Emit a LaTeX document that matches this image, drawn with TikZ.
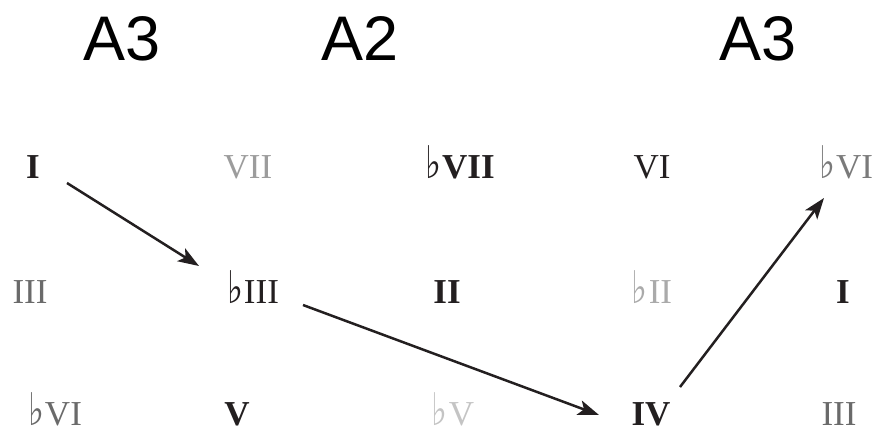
\documentclass[tikz,border=0pt]{standalone}
\usepackage{graphicx}
\usepackage{fontspec}
\setmainfont{Liberation Serif}
\newfontfamily\flatfont{DejaVu Sans}
\newfontfamily\labfont{Liberation Sans}
\usetikzlibrary{arrows.meta}
\definecolor{ink}{HTML}{231F20}
\definecolor{gA}{HTML}{6A6A6A}
\definecolor{gB}{HTML}{7A7A7A}
\definecolor{gC}{HTML}{9C9C9C}
\definecolor{gD}{HTML}{AAAAAA}
\definecolor{gE}{HTML}{C4C4C4}
\newcommand{\fl}{\scalebox{0.75}[1]{\flatfont\fontsize{45}{50}\selectfont ♭}\kern1pt}
\tikzset{
  rn/.style={anchor=base, font=\fontsize{35}{40}\selectfont, text=ink, inner sep=0pt},
  bd/.style={rn, font=\fontsize{35}{40}\selectfont\bfseries},
  lab/.style={anchor=base, font=\labfont\fontsize{63}{70}\selectfont, inner sep=0pt},
  arr/.style={draw=ink, line width=2.5pt, -{Stealth[length=21pt,width=15pt,inset=5pt]}}
}
\begin{document}
\begin{tikzpicture}[x=1pt,y=-1pt]
\useasboundingbox (0,0) rectangle (877,436);
% top labels
\node[lab] (t1) at (122,60) {A3};
\node[lab] (t2) at (360,60) {A2};
\node[lab] (t3) at (758,60) {A3};
% row 1
\node[bd] (r1c1) at (33,178) {I};
\node[rn, text=gC] (r1c2) at (248,178) {VII};
\node[bd] (r1c3) at (460,178) {\fl VII};
\node[rn] (r1c4) at (652,178) {VI};
\node[rn, text=gB] (r1c5) at (846,178) {\fl VI};
% row 2
\node[rn, text=gA] (r2c1) at (30,303) {III};
\node[rn] (r2c2) at (253,303) {\fl III};
\node[bd] (r2c3) at (447,303) {II};
\node[rn, text=gD] (r2c4) at (652,303) {\fl II};
\node[bd] (r2c5) at (843,303) {I};
% row 3
\node[rn, text=gA] (r3c1) at (55,425) {\fl VI};
\node[bd] (r3c2) at (237,425) {V};
\node[rn, text=gE] (r3c3) at (453,425) {\fl V};
\node[bd] (r3c4) at (651,425) {IV};
\node[rn, text=gA] (r3c5) at (839,425) {III};
% arrow ends
\coordinate (a1s) at (67,183);
\coordinate (a1e) at (199,266);
\coordinate (a2s) at (303,305);
\coordinate (a2e) at (599,415);
\coordinate (a3s) at (680,387);
\coordinate (a3e) at (824,198);
\draw[arr] (a1s) -- (a1e);
\draw[arr] (a2s) -- (a2e);
\draw[arr] (a3s) -- (a3e);
\end{tikzpicture}
\end{document}
